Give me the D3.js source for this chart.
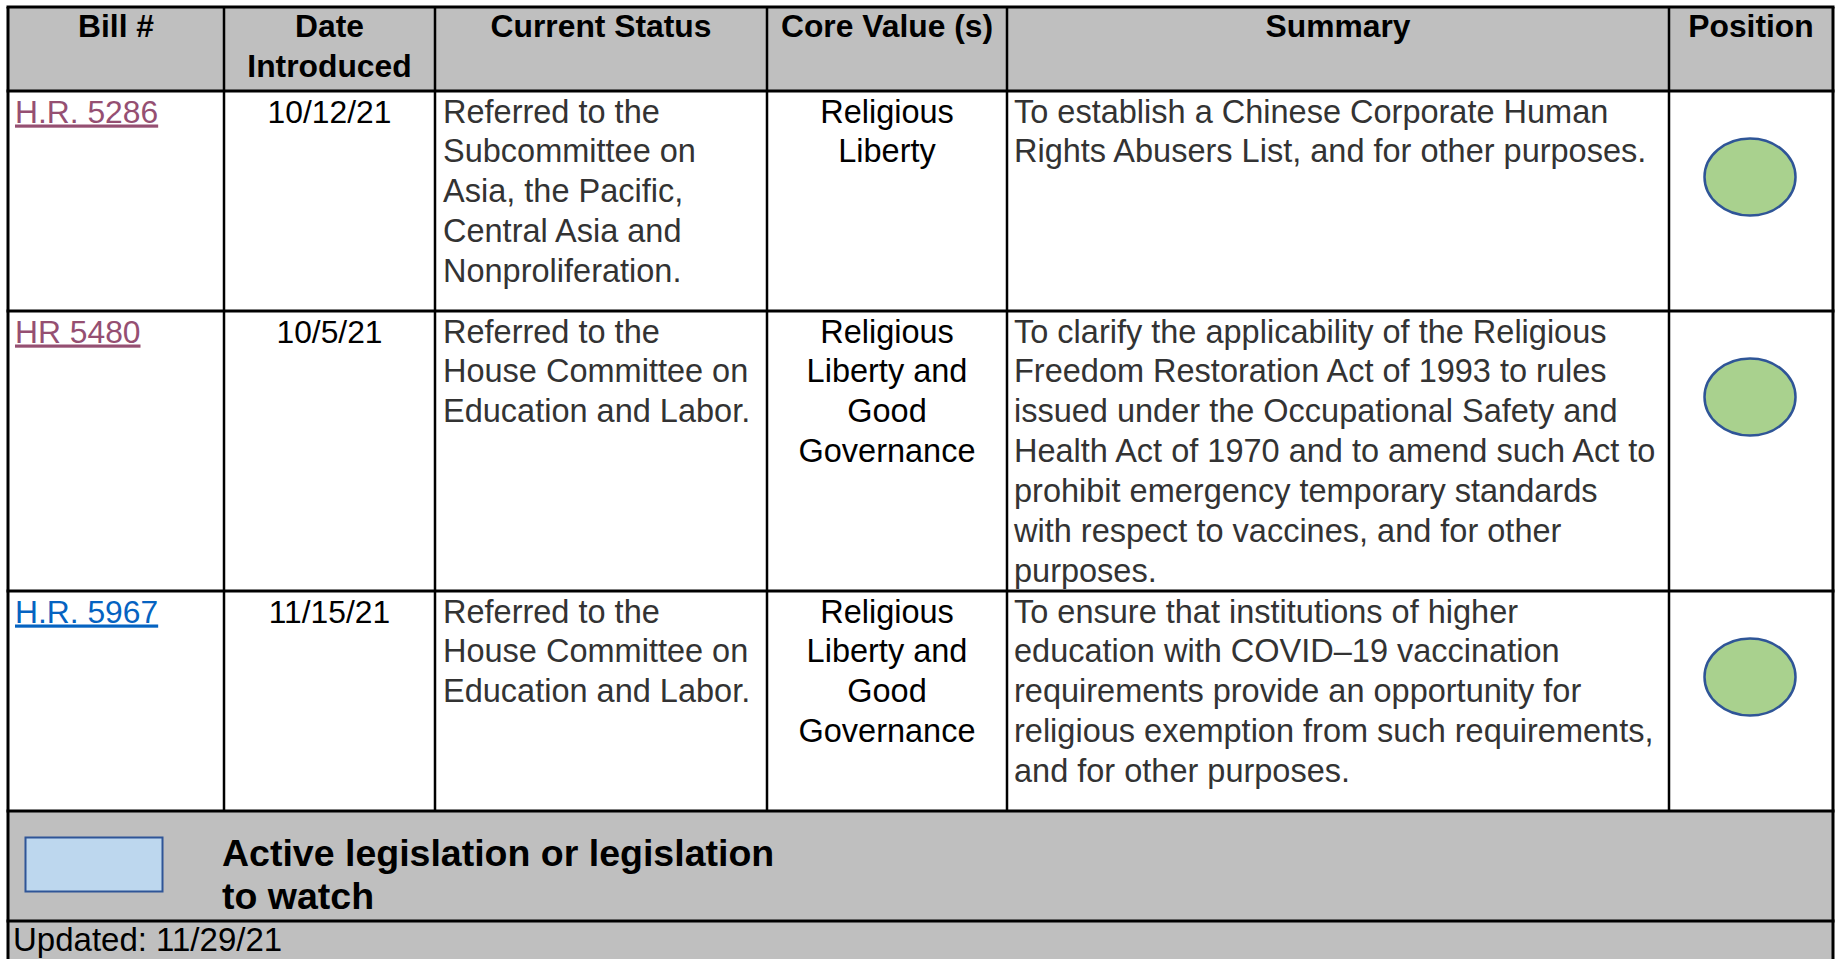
<!DOCTYPE html>
<html>
<head>
<meta charset="utf-8">
<script src="https://cdn.jsdelivr.net/npm/d3@7"></script>
<style>
  html, body { margin: 0; padding: 0; background: #ffffff; }
  svg { display: block; font-family: "Liberation Sans", Arial, sans-serif; }
</style>
</head>
<body>
<svg id="chart" width="1836" height="959"></svg>
<script>
// ---------------- data ----------------
const headers = [["Bill #"], ["Date", "Introduced"], ["Current Status"], ["Core Value (s)"], ["Summary"], ["Position"]];
const bills = ["H.R. 5286", "HR 5480", "H.R. 5967"];
const billVisited = [true, true, false];
const dates = ["10/12/21", "10/5/21", "11/15/21"];
const statuses = [
  ["Referred to the", "Subcommittee on", "Asia, the Pacific,", "Central Asia and", "Nonproliferation."],
  ["Referred to the", "House Committee on", "Education and Labor."],
  ["Referred to the", "House Committee on", "Education and Labor."]
];
const coreValues = [
  ["Religious", "Liberty"],
  ["Religious", "Liberty and", "Good", "Governance"],
  ["Religious", "Liberty and", "Good", "Governance"]
];
const summaries = [
  ["To establish a Chinese Corporate Human", "Rights Abusers List, and for other purposes."],
  ["To clarify the applicability of the Religious", "Freedom Restoration Act of 1993 to rules",
   "issued under the Occupational Safety and", "Health Act of 1970 and to amend such Act to",
   "prohibit emergency temporary standards", "with respect to vaccines, and for other", "purposes."],
  ["To ensure that institutions of higher", "education with COVID\u201319 vaccination",
   "requirements provide an opportunity for", "religious exemption from such requirements,",
   "and for other purposes."]
];
const positions = ["support", "support", "support"];
const legendLines = ["Active legislation or legislation", "to watch"];
const updatedText = "Updated: 11/29/21";

// ---------------- layout ----------------
const colEdges = [8, 224, 435, 767, 1007, 1669, 1833];
const rowEdges = [7, 91, 311, 591, 811, 921, 975];
const lineH = 39.9;
const bodySize = 32.5;
const dateSize = 31.8;
const headSize = 31.8;

const svg = d3.select("#chart");
const xCol = d3.scaleOrdinal().domain(d3.range(6)).range(colEdges.slice(0, 6));
const wCol = i => colEdges[i + 1] - colEdges[i];
const yRow = d3.scaleOrdinal().domain(d3.range(6)).range(rowEdges.slice(0, 6));
const hRow = i => rowEdges[i + 1] - rowEdges[i];

const gray = "#bfbfbf";

// backgrounds
svg.append("rect").attr("x", colEdges[0]).attr("y", yRow(0)).attr("width", colEdges[6] - colEdges[0]).attr("height", hRow(0)).attr("fill", gray);
svg.append("rect").attr("x", colEdges[0]).attr("y", yRow(4)).attr("width", colEdges[6] - colEdges[0]).attr("height", rowEdges[6] - rowEdges[4]).attr("fill", gray);

// header text
const hdr = svg.append("g").attr("font-weight", "bold").attr("font-size", headSize).attr("fill", "#000");
headers.forEach((lines, i) => {
  const t = hdr.append("text").attr("text-anchor", "middle");
  lines.forEach((ln, k) => {
    t.append("tspan").attr("x", xCol(i) + wCol(i) / 2).attr("y", yRow(0) + 30 + k * 40).text(ln);
  });
});

// body rows
const body = svg.append("g").attr("font-size", bodySize);
bills.forEach((b, r) => {
  const y0 = yRow(r + 1) + 31.5;
  // bill link
  body.append("text").attr("x", xCol(0) + 7).attr("y", y0).attr("font-size", dateSize)
    .attr("fill", billVisited[r] ? "#954f72" : "#0563c1")
    .attr("text-decoration", "underline").text(b);
  // date
  body.append("text").attr("x", xCol(1) + wCol(1) / 2).attr("y", y0).attr("font-size", dateSize)
    .attr("text-anchor", "middle").attr("fill", "#000").text(dates[r]);
  // status
  const st = body.append("text").attr("fill", "#333");
  statuses[r].forEach((ln, k) => st.append("tspan").attr("x", xCol(2) + 8).attr("y", y0 + k * lineH).text(ln));
  // core values
  const cv = body.append("text").attr("fill", "#000").attr("text-anchor", "middle");
  coreValues[r].forEach((ln, k) => cv.append("tspan").attr("x", xCol(3) + wCol(3) / 2).attr("y", y0 + k * lineH).text(ln));
  // summary
  const sm = body.append("text").attr("fill", "#333");
  summaries[r].forEach((ln, k) => sm.append("tspan").attr("x", xCol(4) + 7).attr("y", y0 + k * lineH).text(ln));
  // position marker
  if (positions[r] === "support") {
    svg.append("ellipse").attr("cx", xCol(5) + wCol(5) / 2 - 1).attr("cy", yRow(r + 1) + 86)
      .attr("rx", 45.5).attr("ry", 38.5).attr("fill", "#a9d18e").attr("stroke", "#2f5597").attr("stroke-width", 2.5);
  }
});

// legend row
svg.append("rect").attr("x", 25.5).attr("y", 837.5).attr("width", 137).attr("height", 54)
  .attr("fill", "#bdd7ee").attr("stroke", "#2f5597").attr("stroke-width", 2);
const lg = svg.append("text").attr("font-weight", "bold").attr("font-size", 37.5).attr("fill", "#000");
legendLines.forEach((ln, k) => lg.append("tspan").attr("x", 222).attr("y", 866 + k * 43).text(ln));

svg.append("text").attr("x", 13).attr("y", 951).attr("font-size", 33).attr("fill", "#000").text(updatedText);

// grid lines
const grid = svg.append("g").attr("stroke", "#000");
rowEdges.slice(0, 6).forEach(y => {
  grid.append("line").attr("x1", colEdges[0] - 1.5).attr("x2", colEdges[6] + 1.5).attr("y1", y).attr("y2", y).attr("stroke-width", 3);
});
[colEdges[0], colEdges[6]].forEach(x => {
  grid.append("line").attr("x1", x).attr("x2", x).attr("y1", rowEdges[0]).attr("y2", 959).attr("stroke-width", 3);
});
colEdges.slice(1, 6).forEach(x => {
  grid.append("line").attr("x1", x).attr("x2", x).attr("y1", rowEdges[0]).attr("y2", rowEdges[4]).attr("stroke-width", 2.5);
});
</script>
</body>
</html>
